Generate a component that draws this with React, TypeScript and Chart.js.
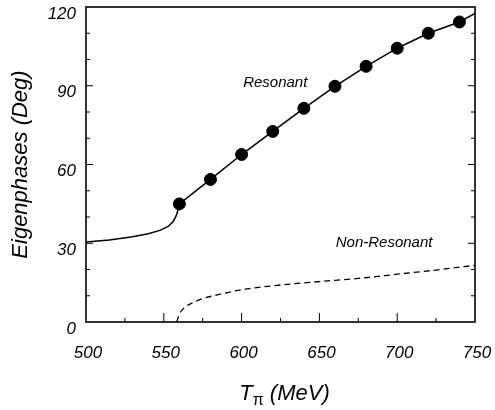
import React, { useEffect, useRef } from "react";
import { Chart, registerables } from "chart.js";

Chart.register(...registerables);

// Resonant eigenphase (continuous curve)
const resCurveX = [500, 515, 530, 540, 548, 553, 556, 558, 559, 560, 580, 600, 620, 640, 660, 680, 700, 720, 740, 750];
const resCurveY = [30.5, 31.2, 32.5, 33.6, 35.0, 36.5, 38.3, 40.5, 42.5, 45.0, 54.3, 63.8, 72.6, 81.4, 89.8, 97.4, 104.3, 110.0, 114.3, 117.6];

// Resonant eigenphase markers
const resPointX = [560, 580, 600, 620, 640, 660, 680, 700, 720, 740];
const resPointY = [45.0, 54.3, 63.8, 72.6, 81.4, 89.8, 97.4, 104.3, 110.0, 114.3];

// Non-resonant eigenphase (dashed)
const nonResX = [558.3, 559.5, 561, 564, 568, 575, 585, 600, 625, 650, 675, 700, 725, 750];
const nonResY = [0, 2.2, 4.0, 5.8, 7.2, 8.9, 10.4, 12.3, 14.1, 15.4, 16.6, 18.2, 19.8, 21.6];

// Axis ticks
const xTicks = [500, 550, 600, 650, 700, 750];
const yTicks = [0, 30, 60, 90, 120];

const FONT = '"Liberation Sans", Arial, Helvetica, sans-serif';

const framePlugin = {
  id: "frame",
  afterDraw(chart: any) {
    const { ctx, chartArea, scales } = chart;
    const { left, right, top, bottom } = chartArea;
    const xs = scales.x;
    const ys = scales.y;
    ctx.save();
    ctx.strokeStyle = "#000";
    ctx.lineWidth = 1.6;
    ctx.strokeRect(left, top, right - left, bottom - top);

    // inward ticks
    ctx.lineWidth = 1;
    for (let v = 10; v < 120; v += 10) {
      const py = ys.getPixelForValue(v);
      const len = v % 30 === 0 ? 7 : 4;
      ctx.beginPath();
      ctx.moveTo(left, py);
      ctx.lineTo(left + len, py);
      ctx.moveTo(right, py);
      ctx.lineTo(right - len, py);
      ctx.stroke();
    }
    for (let v = 525; v < 750; v += 25) {
      const px = xs.getPixelForValue(v);
      const len = v % 50 === 0 ? 9 : 4;
      ctx.beginPath();
      ctx.moveTo(px, bottom);
      ctx.lineTo(px, bottom - len);
      ctx.stroke();
    }

    // annotations
    ctx.fillStyle = "#000";
    ctx.textBaseline = "middle";
    ctx.textAlign = "left";
    ctx.font = `italic 15px ${FONT}`;
    ctx.fillText("Resonant", xs.getPixelForValue(601), ys.getPixelForValue(91));
    ctx.fillText("Non-Resonant", xs.getPixelForValue(660.5), ys.getPixelForValue(30.2));

    // x-axis title: T_pi (MeV)
    const baseline = 400;
    ctx.textBaseline = "alphabetic";
    ctx.font = `italic 22px ${FONT}`;
    const wT = ctx.measureText("T").width;
    ctx.font = `16px ${FONT}`;
    const wPi = ctx.measureText("π").width;
    ctx.font = `italic 22px ${FONT}`;
    const wRest = ctx.measureText(" (MeV)").width;
    const total = wT + wPi + wRest;
    let x0 = (left + right) / 2 + 4 - total / 2;
    ctx.fillText("T", x0, baseline);
    x0 += wT;
    ctx.font = `16px ${FONT}`;
    ctx.fillText("π", x0, baseline + 5);
    x0 += wPi;
    ctx.font = `italic 22px ${FONT}`;
    ctx.fillText(" (MeV)", x0, baseline);
    ctx.restore();
  },
};

export default function App() {
  const ref = useRef<HTMLCanvasElement | null>(null);

  useEffect(() => {
    if (!ref.current) return;
    const chart = new Chart(ref.current, {
      type: "scatter",
      data: {
        datasets: [
          {
            label: "Resonant curve",
            data: resCurveX.map((x, i) => ({ x, y: resCurveY[i] })),
            showLine: true,
            borderColor: "#000",
            borderWidth: 1.5,
            pointRadius: 0,
            tension: 0,
          },
          {
            label: "Resonant",
            data: resPointX.map((x, i) => ({ x, y: resPointY[i] })),
            showLine: false,
            pointRadius: 6,
            pointBackgroundColor: "#000",
            pointBorderColor: "#000",
          },
          {
            label: "Non-Resonant",
            data: nonResX.map((x, i) => ({ x, y: nonResY[i] })),
            showLine: true,
            borderColor: "#000",
            borderWidth: 1.3,
            borderDash: [6, 4],
            pointRadius: 0,
            cubicInterpolationMode: "monotone",
          },
        ],
      },
      options: {
        responsive: false,
        animation: false,
        layout: { padding: { top: 7, right: 20, left: 0, bottom: 0 } },
        plugins: { legend: { display: false }, tooltip: { enabled: false } },
        scales: {
          x: {
            type: "linear",
            min: 500,
            max: 750,
            afterBuildTicks: (s: any) => {
              s.ticks = xTicks.map((v) => ({ value: v }));
            },
            afterFit: (s: any) => {
              s.height = 88;
              s.paddingLeft = 0;
              s.paddingRight = 0;
            },
            ticks: {
              color: "#000",
              padding: 21,
              labelOffset: 2,
              maxRotation: 0,
              font: { family: FONT, style: "italic", size: 17 },
            },
            grid: { display: false, drawTicks: false },
            border: { display: false },
          },
          y: {
            min: 0,
            max: 120,
            afterBuildTicks: (s: any) => {
              s.ticks = yTicks.map((v) => ({ value: v }));
            },
            afterFit: (s: any) => {
              s.width = 86;
              s.paddingTop = 0;
              s.paddingBottom = 0;
            },
            ticks: {
              color: "#000",
              padding: 10,
              labelOffset: 7,
              font: { family: FONT, style: "italic", size: 17 },
            },
            grid: { display: false, drawTicks: false },
            border: { display: false },
            title: {
              display: true,
              text: "Eigenphases (Deg)",
              color: "#000",
              padding: { top: 8, bottom: 0 },
              font: { family: FONT, style: "italic", size: 22 },
            },
          },
        },
      },
      plugins: [framePlugin],
    });
    return () => chart.destroy();
  }, []);

  return (
    <div style={{ position: "fixed", left: 0, top: 0, width: 495, height: 410, background: "#fff" }}>
      <canvas ref={ref} width={495} height={410} style={{ display: "block" }} />
    </div>
  );
}
